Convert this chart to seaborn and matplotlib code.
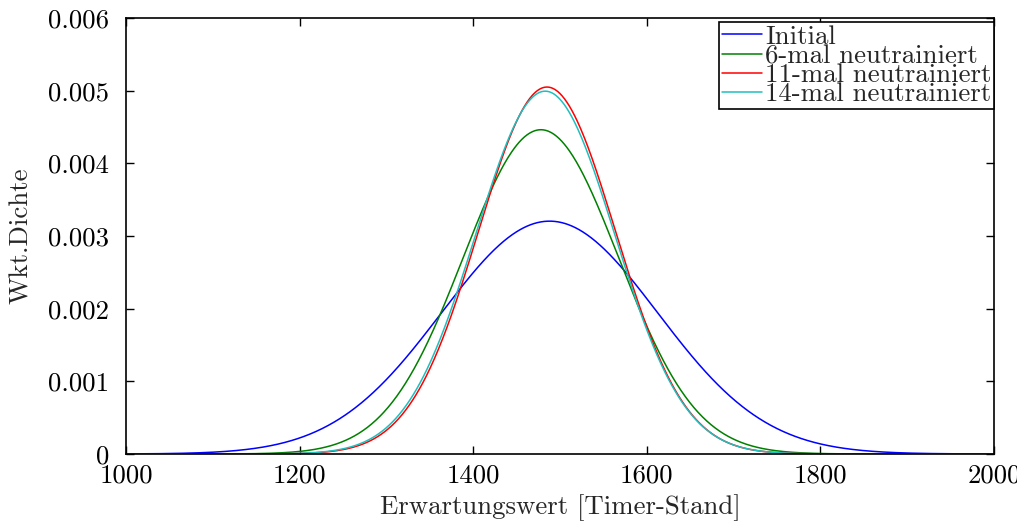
import numpy as np
import pandas as pd
import matplotlib
matplotlib.use("Agg")
import matplotlib.pyplot as plt
import seaborn as sns

# Fitted normal distributions
series_labels = ["Initial", "6-mal neutrainiert", "11-mal neutrainiert", "14-mal neutrainiert"]
series_means = [1488.0, 1478.0, 1485.0, 1483.0]
series_sigmas = [124.5, 89.4, 79.0, 79.9]
series_colors = ["#0000ff", "#008000", "#ff0000", "#1fbfbf"]

x_ticks = [1000, 1200, 1400, 1600, 1800, 2000]
x_tick_labels = ["1000", "1200", "1400", "1600", "1800", "2000"]
y_ticks = [0, 0.001, 0.002, 0.003, 0.004, 0.005, 0.006]
y_tick_labels = ["0", "0.001", "0.002", "0.003", "0.004", "0.005", "0.006"]

xs = np.linspace(1000, 2000, 1001)
frames = []
for lab, mu, sd in zip(series_labels, series_means, series_sigmas):
    dens = np.exp(-0.5 * ((xs - mu) / sd) ** 2) / (sd * np.sqrt(2 * np.pi))
    frames.append(pd.DataFrame({"x": xs, "y": dens, "series": lab}))
df = pd.concat(frames, ignore_index=True)

sns.set_style("white")
plt.rcParams["font.family"] = ["cmr10", "DejaVu Serif"]
plt.rcParams["axes.unicode_minus"] = False
plt.rcParams["axes.formatter.use_mathtext"] = True

fs = 19.3
fig = plt.figure(figsize=(10.17, 5.29), dpi=100)
ax = fig.add_axes([126 / 1017, 1 - 454 / 529, (994 - 126) / 1017, (454 - 18) / 529])

sns.lineplot(data=df, x="x", y="y", hue="series", hue_order=series_labels,
             palette=series_colors, linewidth=1.1, ax=ax, legend=True)

ax.set_xlim(1000, 2000)
ax.set_ylim(0, 0.006)
ax.set_xticks(x_ticks)
ax.set_xticklabels(x_tick_labels, fontsize=fs)
ax.set_yticks(y_ticks)
ax.set_yticklabels(y_tick_labels, fontsize=fs)
ax.tick_params(direction="in", length=6, width=1, top=True, right=True,
               bottom=True, left=True, colors="black")
ax.tick_params(axis="x", pad=7)
ax.tick_params(axis="y", pad=12)
for s in ax.spines.values():
    s.set_visible(True)
    s.set_color("black")
    s.set_linewidth(1.2)

ax.set_xlabel("Erwartungswert [Timer-Stand]", fontsize=fs, labelpad=5)
ax.set_ylabel("Wkt.Dichte", fontsize=fs, labelpad=11)

handles, labels = ax.get_legend_handles_labels()
leg = ax.legend(handles, labels, loc="upper right", bbox_to_anchor=(1.0, 0.99),
                fontsize=fs, frameon=True, fancybox=False, edgecolor="black",
                framealpha=1, borderpad=0.1, labelspacing=-0.17, handlelength=1.5,
                handletextpad=0.1, borderaxespad=0.0)
leg.get_frame().set_linewidth(1.2)

fig.savefig("out.png", dpi=100)
